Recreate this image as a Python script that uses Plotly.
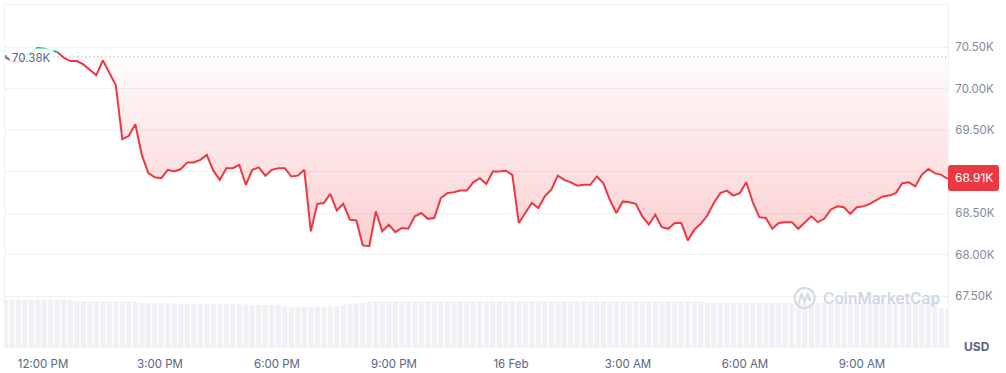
import pandas as pd
import plotly.graph_objects as go

BASELINE = 70.38
CURRENT = 68.91

PRICE_K = [
    70.38, 70.33, 70.32, 70.39, 70.44, 70.49, 70.48, 70.46, 70.44, 70.37,
    70.33, 70.33, 70.29, 70.23, 70.16, 70.34, 70.19, 70.04, 69.39, 69.43,
    69.57, 69.20, 68.98, 68.93, 68.92, 69.02, 69.00, 69.03, 69.11, 69.11,
    69.14, 69.20, 69.01, 68.90, 69.04, 69.04, 69.08, 68.84, 69.02, 69.05,
    68.95, 69.02, 69.04, 69.04, 68.94, 68.95, 69.02, 68.28, 68.61, 68.62,
    68.73, 68.53, 68.61, 68.42, 68.41, 68.11, 68.10, 68.52, 68.28, 68.36,
    68.27, 68.32, 68.31, 68.46, 68.50, 68.43, 68.44, 68.68, 68.74, 68.75,
    68.77, 68.77, 68.87, 68.92, 68.85, 69.00, 69.00, 69.01, 68.96, 68.38,
    68.50, 68.62, 68.56, 68.70, 68.78, 68.95, 68.90, 68.87, 68.83, 68.84,
    68.84, 68.94, 68.86, 68.66, 68.50, 68.64, 68.63, 68.61, 68.46, 68.36,
    68.48, 68.33, 68.31, 68.38, 68.38, 68.17, 68.30, 68.37, 68.47, 68.62,
    68.74, 68.77, 68.71, 68.74, 68.87, 68.63, 68.45, 68.44, 68.31, 68.38,
    68.39, 68.39, 68.31, 68.38, 68.46, 68.39, 68.43, 68.54, 68.58, 68.57,
    68.49, 68.57, 68.58, 68.61, 68.65, 68.70, 68.71, 68.74, 68.86, 68.87,
    68.82, 68.96, 69.03, 68.98, 68.96, 68.91,
]

VOLUME_B = [
    41.2, 41.2, 41.3, 41.2, 41.2, 41.3, 41.5, 41.6, 41.8, 41.6,
    41.2, 40.3, 40.1, 40.1, 40.0, 40.1, 40.0, 39.9, 40.0, 39.9,
    39.8, 38.5, 38.4, 38.3, 38.3, 38.2, 38.3, 38.2, 38.1, 38.2,
    38.0, 37.6, 37.5, 37.5, 37.4, 37.5, 37.3, 37.2, 37.0, 36.8,
    36.8, 36.7, 36.6, 35.6, 35.4, 35.3, 35.4, 35.3, 35.4, 35.5,
    35.6, 36.0, 36.8, 37.6, 38.4, 39.0, 39.6, 40.1, 40.2, 40.1,
    40.1, 40.2, 40.1, 40.0, 40.1, 40.1, 40.2, 40.1, 40.1, 40.0,
    40.1, 40.1, 40.2, 40.1, 40.2, 40.1, 40.2, 40.4, 40.4, 40.5,
    40.4, 40.4, 40.5, 40.4, 40.4, 40.3, 40.4, 40.4, 40.5, 40.4,
    40.4, 40.4, 40.3, 40.4, 40.4, 40.4, 40.3, 40.4, 40.4, 40.3,
    40.4, 40.4, 40.3, 40.4, 40.3, 40.4, 40.3, 39.9, 38.7, 38.6,
    38.6, 38.7, 38.6, 38.6, 38.5, 38.6, 38.6, 38.7, 38.6, 38.6,
    38.5, 38.6, 38.6, 38.6, 38.5, 38.6, 38.6, 38.6, 38.5, 38.6,
    38.6, 38.5, 38.6, 38.6, 38.6, 38.5, 38.6, 38.6, 38.5, 38.6,
    38.6, 38.5, 38.6, 38.5, 34.5, 34.2,
]

TIMES = pd.date_range("2026-02-15 11:02", periods=len(PRICE_K), freq="10min")

# 69.00K label is hidden behind the current-price tag in the reference
Y_TICK_VALS = [67.5, 68.0, 68.5, 69.0, 69.5, 70.0, 70.5]
Y_TICK_TEXT = ["67.50K", "68.00K", "68.50K", "", "69.50K", "70.00K", "70.50K"]

X_TICK_VALS = ["2026-02-15 12:00", "2026-02-15 15:00", "2026-02-15 18:00", "2026-02-15 21:00",
               "2026-02-16 00:00", "2026-02-16 03:00", "2026-02-16 06:00", "2026-02-16 09:00"]
X_TICK_TEXT = ["12:00 PM", "3:00 PM", "6:00 PM", "9:00 PM", "16 Feb", "3:00 AM", "6:00 AM", "9:00 AM"]

RED = "#ea3943"
GREEN = "#16c784"
GRID = "#eff2f5"
FONT = "Inter"

# split line into segments above (green) / below (red) the baseline
green_y, red_y = [None] * len(PRICE_K), [None] * len(PRICE_K)
for i in range(len(PRICE_K) - 1):
    a, b = PRICE_K[i], PRICE_K[i + 1]
    target = green_y if min(a, b) >= BASELINE else red_y
    target[i], target[i + 1] = a, b

fig = go.Figure()

fig.add_trace(go.Bar(x=TIMES, y=VOLUME_B, marker=dict(color="#eff1f4", line=dict(width=0)),
                     yaxis="y", hoverinfo="skip", showlegend=False))

fig.add_trace(go.Scatter(x=TIMES, y=[BASELINE] * len(TIMES), mode="lines",
                         line=dict(color="#8d96a8", width=1, dash="1px,3px"),
                         yaxis="y2", hoverinfo="skip", showlegend=False))

fig.add_trace(go.Scatter(x=TIMES, y=PRICE_K, mode="lines", line=dict(width=0),
                         fill="tonexty",
                         fillgradient=dict(type="vertical", start=68.0, stop=BASELINE,
                                           colorscale=[[0, "rgba(234,57,67,0.25)"],
                                                       [1, "rgba(234,57,67,0.02)"]]),
                         yaxis="y2", hoverinfo="skip", showlegend=False))

fig.add_trace(go.Scatter(x=TIMES, y=red_y, mode="lines", connectgaps=False,
                         line=dict(color=RED, width=2), yaxis="y2", showlegend=False))
fig.add_trace(go.Scatter(x=TIMES, y=green_y, mode="lines", connectgaps=False,
                         line=dict(color=GREEN, width=2), yaxis="y2", showlegend=False))
fig.add_trace(go.Scatter(x=TIMES[:1], y=PRICE_K[:1], mode="markers",
                         marker=dict(color=GREEN, size=4), yaxis="y2", showlegend=False))

fig.update_layout(
    width=1006, height=373,
    margin=dict(l=5, r=58, t=5, b=26, autoexpand=False),
    paper_bgcolor="white", plot_bgcolor="white",
    bargap=0.2,
    font=dict(family=FONT, color="#58667e", size=12),
    xaxis=dict(range=["2026-02-15 11:01:30", "2026-02-16 11:12:20"],
               tickvals=X_TICK_VALS, ticktext=X_TICK_TEXT, automargin=False,
               showgrid=False, zeroline=False,
               showline=True, mirror=True, linecolor=GRID, linewidth=1,
               ticks="outside", ticklen=6, tickcolor="rgba(0,0,0,0)",
               tickfont=dict(size=11.5, color="#58667e")),
    yaxis=dict(range=[0, 300], showticklabels=False, showgrid=False, zeroline=False,
               automargin=False,
               showline=True, mirror=True, linecolor=GRID, linewidth=1, fixedrange=True),
    yaxis2=dict(overlaying="y", side="right", range=[66.886, 71.006], automargin=False,
                tickvals=Y_TICK_VALS, ticktext=Y_TICK_TEXT,
                showgrid=True, gridcolor=GRID, gridwidth=1, zeroline=False, showline=False,
                ticks="outside", ticklen=4, tickcolor="rgba(0,0,0,0)",
                tickfont=dict(size=11.5, color="#808a9d")),
)

# baseline label
fig.add_annotation(x=0, y=BASELINE, xref="paper", yref="y2", xanchor="left", yanchor="middle",
                   xshift=4, yshift=-1.5, text="70.38K", showarrow=False,
                   font=dict(size=11.5, color="#58667e", family=FONT),
                   bgcolor="rgba(255,255,255,0.85)", borderpad=2)

# current price tag
fig.add_shape(type="path", xref="paper", yref="y2", xsizemode="pixel", ysizemode="pixel",
              xanchor=1, yanchor=CURRENT,
              path="M 3,-12 L 48,-12 Q 51,-12 51,-9 L 51,11 Q 51,14 48,14 L 3,14 Q 0,14 0,11 L 0,-9 Q 0,-12 3,-12 Z",
              fillcolor=RED, line=dict(width=0), layer="above")
fig.add_annotation(x=1, y=CURRENT, xref="paper", yref="y2", xanchor="center", yanchor="middle",
                   xshift=25.5, yshift=1.5, text="68.91K", showarrow=False,
                   font=dict(size=12, color="white", family=FONT))

# USD label
fig.add_annotation(x=1, y=0, xref="paper", yref="paper", xanchor="left", yanchor="middle",
                   xshift=14, yshift=1, text="<b>USD</b>", showarrow=False,
                   font=dict(size=12, color="#58667e", family=FONT))

# watermark
fig.add_shape(type="circle", xref="paper", yref="paper", xsizemode="pixel", ysizemode="pixel",
              xanchor=0.848, yanchor=0.143, x0=-10, x1=10, y0=-10, y1=10,
              line=dict(color="#d3d9e3", width=2), layer="above")
fig.add_shape(type="path", xref="paper", yref="paper", xsizemode="pixel", ysizemode="pixel",
              xanchor=0.848, yanchor=0.143,
              path="M -6,-5 L -3,4 L 0,-3 L 3,4 L 5,-2 L 7,-1",
              line=dict(color="#d3d9e3", width=2), layer="above")
fig.add_annotation(x=0.848, y=0.143, xref="paper", yref="paper", xanchor="left", yanchor="middle",
                   xshift=16, text="CoinMarketCap", showarrow=False,
                   font=dict(size=15.5, color="#cfd6e4", family=FONT, weight=600))

fig.write_html("out.html")
